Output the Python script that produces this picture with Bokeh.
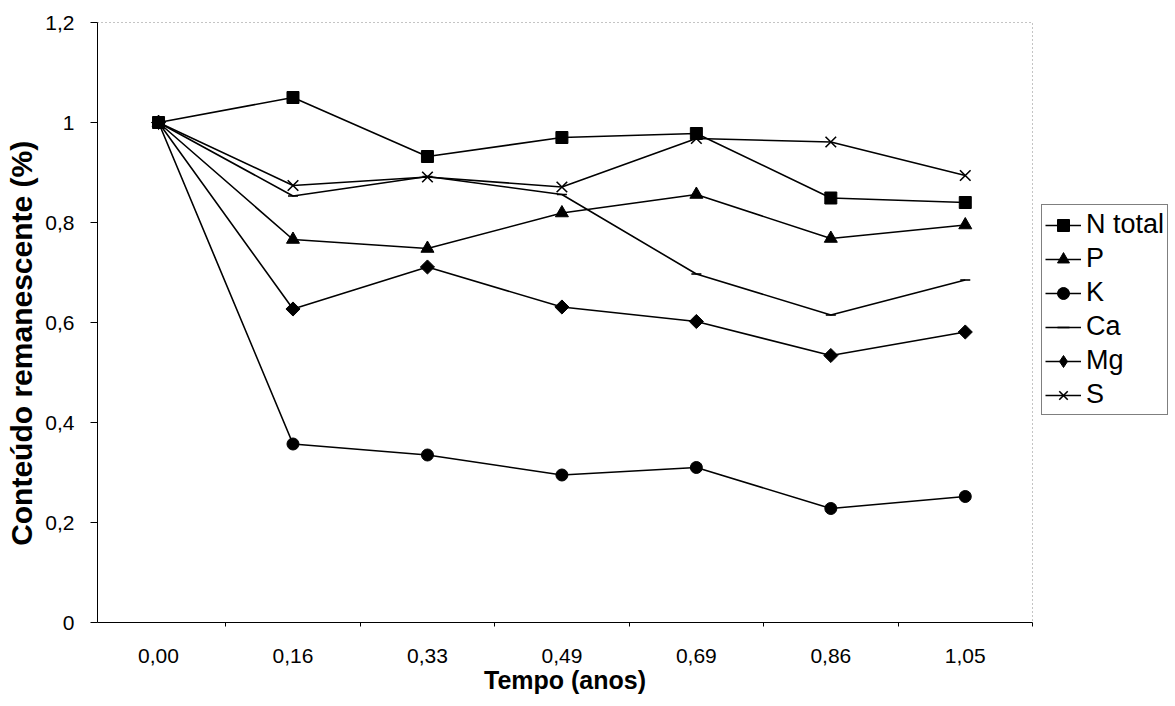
import math
from bokeh.plotting import figure
from bokeh.models import (FixedTicker, Legend, LegendItem, Range1d)
from bokeh.embed import file_html
from bokeh.resources import INLINE

# ---- data ----
tempo_labels = ["0,00", "0,16", "0,33", "0,49", "0,69", "0,86", "1,05"]
n_total = [1.0, 1.05, 0.932, 0.970, 0.978, 0.849, 0.840]
p_vals = [1.0, 0.766, 0.748, 0.819, 0.856, 0.768, 0.795]
k_vals = [1.0, 0.357, 0.335, 0.295, 0.310, 0.228, 0.252]
ca_vals = [1.0, 0.853, 0.892, 0.856, 0.697, 0.615, 0.685]
mg_vals = [1.0, 0.627, 0.711, 0.631, 0.602, 0.534, 0.581]
s_vals = [1.0, 0.874, 0.891, 0.871, 0.968, 0.961, 0.894]
y_ticks = [0, 0.2, 0.4, 0.6, 0.8, 1.0, 1.2]
y_tick_labels = ["0", "0,2", "0,4", "0,6", "0,8", "1", "1,2"]

FONT = "Liberation Sans"
xs = list(range(len(tempo_labels)))

p = figure(width=1175, height=706, output_backend="svg", toolbar_location=None,
           x_range=Range1d(-0.454, 6.5), y_range=Range1d(0, 1.2),
           min_border_left=97, min_border_right=0, min_border_top=22,
           min_border_bottom=84)
p.frame_width = 935
p.frame_height = 600
p.background_fill_color = "white"
p.border_fill_color = "white"
p.xgrid.visible = False
p.ygrid.visible = False
p.outline_line_color = "#888888"
p.outline_line_dash = "1 3"
p.outline_line_width = 1

# axes
xa = p.xaxis[0]
xa.ticker = FixedTicker(ticks=xs, minor_ticks=[i + 0.5 for i in range(-1, 7)])
xa.major_label_overrides = {i: lab for i, lab in enumerate(tempo_labels)}
xa.major_tick_out = 0
xa.major_tick_in = 0
xa.minor_tick_out = 4
xa.minor_tick_in = 0
xa.axis_line_color = "black"
xa.major_label_text_font = FONT
xa.major_label_text_font_size = "21px"
xa.major_label_text_color = "black"
xa.major_label_standoff = 22
xa.axis_label = "Tempo (anos)"
xa.axis_label_text_font = FONT
xa.axis_label_text_font_style = "bold"
xa.axis_label_text_font_size = "25px"
xa.axis_label_text_color = "black"
xa.axis_label_standoff = 0

ya = p.yaxis[0]
ya.ticker = FixedTicker(ticks=y_ticks, minor_ticks=[])
ya.major_label_overrides = {t: lab for t, lab in zip(y_ticks, y_tick_labels)}
ya.major_tick_out = 7
ya.major_tick_in = 0
ya.minor_tick_out = 0
ya.minor_tick_in = 0
ya.axis_line_color = "black"
ya.major_label_text_font = FONT
ya.major_label_text_font_size = "21px"
ya.major_label_text_color = "black"
ya.major_label_standoff = 16
ya.axis_label = "Conteúdo remanescente (%)" + "\u00a0" * 5
ya.axis_label_text_font = FONT
ya.axis_label_text_font_style = "bold"
ya.axis_label_text_font_size = "30px"
ya.axis_label_text_color = "black"
ya.axis_label_standoff = 4

series = [
    ("N total", n_total, "square", 12, 0, "square"),
    ("P", p_vals, "triangle", 13, 0, "triangle"),
    ("K", k_vals, "circle", 12, 0, "circle"),
    ("Ca", ca_vals, "dash", 10, 0, "dash"),
    ("Mg", mg_vals, "square", 10, math.pi / 4, "diamond"),
    ("S", s_vals, "x", 15, 0, "x"),
]
# off-screen anchor used only to draw legend-only glyphs
legend_anchor_x = [100]
legend_anchor_y = [100]

items = []
for name, vals, marker, size, ang, leg_marker in reversed(series):
    lw = 1.6 if marker in ("x", "dash") else 1
    ln = p.line(xs, vals, line_color="black", line_width=1.6)
    sc = p.scatter(xs, vals, marker=marker, size=size, angle=ang,
                   fill_color="black", line_color="black", line_width=lw)
    if leg_marker != marker:
        lg = p.scatter(x=legend_anchor_x, y=legend_anchor_y, marker=leg_marker,
                       size=size + 4, fill_color="black", line_color="black",
                       line_width=lw)
        items.append(LegendItem(label=name, renderers=[ln, lg]))
    else:
        items.append(LegendItem(label=name, renderers=[ln, sc]))
items.reverse()

legend = Legend(items=items, location=(9, 207))
legend.label_text_font = FONT
legend.label_text_font_size = "27px"
legend.label_text_color = "black"
legend.glyph_width = 36
legend.glyph_height = 30
legend.label_height = 33
legend.label_standoff = 5
legend.spacing = 1
legend.padding = 3
legend.margin = 9
legend.border_line_color = "black"
legend.border_line_width = 1
legend.background_fill_color = "white"
legend.background_fill_alpha = 1
p.add_layout(legend, "right")

open("out.html", "w").write(file_html(p, INLINE))
